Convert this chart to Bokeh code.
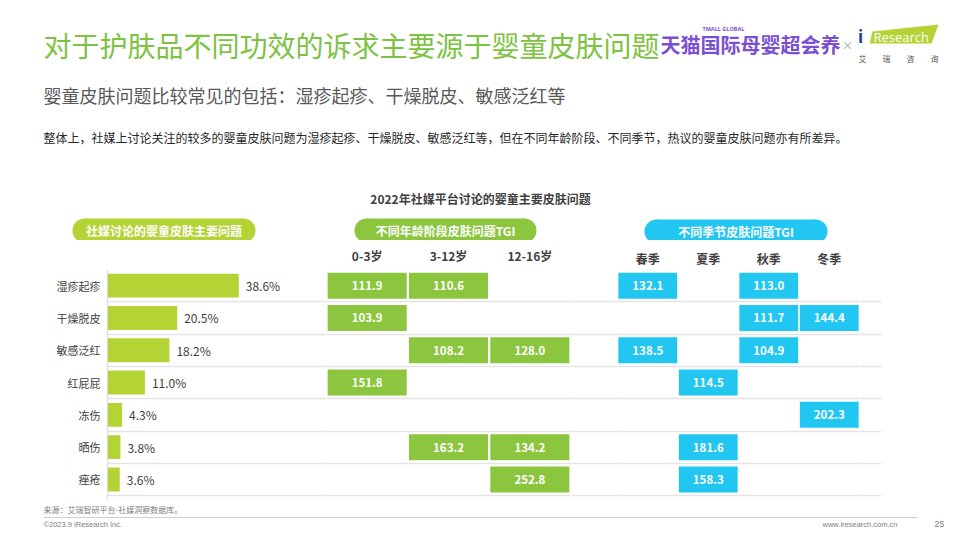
from bokeh.plotting import figure
from bokeh.layouts import column, row
from bokeh.models import Range1d, FactorRange, FixedTicker, ColumnDataSource
from bokeh.embed import file_html
from bokeh.resources import INLINE
from bokeh.core.properties import value

# ---------------- data ----------------
categories = ["湿疹起疹", "干燥脱皮", "敏感泛红", "红屁屁", "冻伤", "晒伤", "痤疮"]
shares = [38.6, 20.5, 18.2, 11.0, 4.3, 3.8, 3.6]

age_groups = ["0-3岁", "3-12岁", "12-16岁"]
tgi_age_0_3 = [111.9, 103.9, None, 151.8, None, None, None]
tgi_age_3_12 = [110.6, None, 108.2, None, None, 163.2, None]
tgi_age_12_16 = [None, None, 128.0, None, None, 134.2, 252.8]

seasons = ["春季", "夏季", "秋季", "冬季"]
tgi_spring = [132.1, None, 138.5, None, None, None, None]
tgi_summer = [None, None, None, 114.5, None, 181.6, 158.3]
tgi_autumn = [113.0, 111.7, 104.9, None, None, None, None]
tgi_winter = [None, 144.4, None, None, 202.3, None, None]

title_text = "对于护肤品不同功效的诉求主要源于婴童皮肤问题"
subtitle_text = "婴童皮肤问题比较常见的包括：湿疹起疹、干燥脱皮、敏感泛红等"
body_text = "整体上，社媒上讨论关注的较多的婴童皮肤问题为湿疹起疹、干燥脱皮、敏感泛红等，但在不同年龄阶段、不同季节，热议的婴童皮肤问题亦有所差异。"
chart_title = "2022年社媒平台讨论的婴童主要皮肤问题"
panel_titles = ["社媒讨论的婴童皮肤主要问题", "不同年龄阶段皮肤问题TGI", "不同季节皮肤问题TGI"]
source_note = "来源：艾瑞智研平台-社媒洞察数据库。"
copyright_text = "©2023.9 iResearch Inc."
url_text = "www.iresearch.com.cn"
page_no = "25"

FONT = "Noto Sans CJK SC"
LIME = "#b4d335"
GREEN = "#8cc63f"
CYAN = "#21c6f1"
GRID = "#e4e4e4"
DARK = "#404040"

rows_idx = list(range(len(categories)))
bounds = [i + 0.5 for i in rows_idx]


def base(w, h, xr, yr, xloc=None, yloc=None, **kw):
    p = figure(width=w, height=h, x_range=xr, y_range=yr,
               output_backend="svg", toolbar_location=None, tools="",
               x_axis_location=xloc, y_axis_location=yloc,
               min_border=0, min_border_left=0, min_border_right=0,
               min_border_top=0, min_border_bottom=0, **kw)
    p.outline_line_color = None
    p.background_fill_color = "white"
    p.border_fill_color = "white"
    p.xgrid.visible = False
    p.ygrid.visible = False
    return p


def row_fig(w, xr, xloc=None, yloc=None, **kw):
    p = base(w, 265, xr, Range1d(6.62, -0.5), xloc=xloc, yloc=yloc, **kw)
    p.min_border_top = 29
    p.min_border_bottom = 6
    p.ygrid.visible = True
    p.ygrid.ticker = FixedTicker(ticks=bounds)
    p.ygrid.grid_line_color = GRID
    p.ygrid.grid_line_width = 1.5
    return p


# ---------------- header ----------------
hdr = base(944, 240, Range1d(0, 944), Range1d(240, 0))
hdr.text(x=[43], y=[44], text=[title_text], text_font=value(FONT), text_font_size="28px",
         text_color="#7dc242", text_baseline="middle", text_align="left")
hdr.text(x=[660], y=[44], text=["天猫国际母婴超会养"], text_font=value(FONT), text_font_size="20px",
         text_font_style="bold", text_color="#7b4fd2", text_baseline="middle", text_align="left")
hdr.text(x=[702], y=[28], text=["TMALL GLOBAL"], text_font=value("Open Sans"), text_font_size="5.5px",
         text_font_style="bold", text_color="#7b4fd2", text_baseline="middle", text_align="left")
hdr.text(x=[847], y=[44], text=["×"], text_font=value(FONT), text_font_size="11px",
         text_color="#999999", text_baseline="middle", text_align="center")
hdr.patch(x=[869, 931, 938, 872], y=[43, 43, 24, 31], fill_color="#b5d334", line_color=None)
hdr.text(x=[860], y=[36], text=["i"], text_font=value("Open Sans"), text_font_size="17px",
         text_font_style="bold", text_color="#233a8f", text_baseline="middle", text_align="center")
hdr.text(x=[873], y=[36], text=["Research"], text_font=value("Open Sans"), text_font_size="13px",
         text_color="white", text_baseline="middle", text_align="left")
hdr.text(x=[858, 882, 906, 930], y=[58] * 4, text=list("艾瑞咨询"), text_font=value(FONT),
         text_font_size="8px", text_color="#555555", text_baseline="middle", text_align="left")
hdr.text(x=[43], y=[94], text=[subtitle_text], text_font=value(FONT), text_font_size="18px",
         text_color="#595959", text_baseline="middle", text_align="left")
hdr.text(x=[43], y=[137], text=[body_text], text_font=value(FONT), text_font_size="12px",
         text_color="#262626", text_baseline="middle", text_align="left")
hdr.text(x=[480], y=[198], text=[chart_title], text_font=value(FONT), text_font_size="12px",
         text_font_style="bold", text_color=DARK, text_baseline="middle", text_align="center")

pill_left = [72, 354, 644]
pill_right = [255, 536, 827]
pill_y = [230, 230, 231]
pill_colors = [LIME, GREEN, CYAN]
for l, r, yy, c, t in zip(pill_left, pill_right, pill_y, pill_colors, panel_titles):
    hdr.rect(x=[(l + r) / 2], y=[yy], width=[r - l - 24], height=[24], fill_color=c, line_color=None)
    hdr.scatter(x=[l + 12, r - 12], y=[yy, yy], size=24, marker="circle", fill_color=c, line_color=None)
    hdr.text(x=[(l + r) / 2], y=[yy], text=[t], text_font=value(FONT), text_font_size="12px",
             text_font_style="bold", text_color="white", text_baseline="middle", text_align="center")

# ---------------- bar panel ----------------
bar = row_fig(326, Range1d(0, 64.4), yloc="left")
bar.min_border_left = 107
bar.yaxis.ticker = FixedTicker(ticks=rows_idx)
bar.yaxis.major_label_overrides = {i: c for i, c in zip(rows_idx, categories)}
bar.yaxis.axis_line_color = "#d9d9d9"
bar.yaxis.major_tick_line_color = None
bar.yaxis.minor_tick_line_color = None
bar.yaxis.major_tick_out = 0
bar.yaxis.major_label_standoff = 7
bar.yaxis.major_label_text_font = FONT
bar.yaxis.major_label_text_font_size = "11px"
bar.yaxis.major_label_text_color = DARK
bsrc = ColumnDataSource(dict(y=rows_idx, v=shares, lab=[f"{v:.1f}%" for v in shares]))
bar.hbar(y="y", left=0, right="v", height=0.74, source=bsrc, fill_color=LIME, line_color=None)
bar.text(x="v", y="y", text="lab", source=bsrc, x_offset=7, text_font=value(FONT),
         text_font_size="12px", text_color=DARK, text_baseline="middle", text_align="left")


def tgi_fig(w, factors, columns, color, standoff):
    p = row_fig(w, FactorRange(factors=factors, range_padding=0), xloc="above")
    ax = p.xaxis
    ax.axis_line_color = None
    ax.major_tick_line_color = None
    ax.minor_tick_line_color = None
    ax.major_tick_out = 0
    ax.major_label_standoff = standoff
    ax.major_label_text_font = FONT
    ax.major_label_text_font_size = "12px"
    ax.major_label_text_font_style = "bold"
    ax.major_label_text_color = DARK
    xs, ys, vs = [], [], []
    for f, col in zip(factors, columns):
        for i, v in zip(rows_idx, col):
            if v is not None:
                xs.append(f)
                ys.append(i)
                vs.append(f"{v:.1f}")
    src = ColumnDataSource(dict(x=xs, y=ys, lab=vs))
    p.rect(x="x", y="y", width=0.972, height=0.805, source=src, fill_color=color, line_color=None)
    p.text(x="x", y="y", text="lab", source=src, text_font=value(FONT), text_font_size="11.5px",
           text_font_style="bold", text_color="white", text_baseline="middle", text_align="center")
    return p


age = tgi_fig(244, age_groups, [tgi_age_0_3, tgi_age_3_12, tgi_age_12_16], GREEN, 6)
gap = row_fig(47, Range1d(0, 1))
season = tgi_fig(242, seasons, [tgi_spring, tgi_summer, tgi_autumn, tgi_winter], CYAN, 3)
right = row_fig(85, Range1d(0, 1))
right.min_border_right = 63

# ---------------- footer ----------------
ftr = base(944, 27, Range1d(0, 944), Range1d(532, 505))
ftr.text(x=[43], y=[509], text=[source_note], text_font=value(FONT), text_font_size="8px",
         text_color="#808080", text_baseline="middle", text_align="left")
ftr.segment(x0=[43], y0=[517], x1=[917], y1=[517], line_color="#cfcfcf", line_width=1)
ftr.text(x=[43], y=[523.5], text=[copyright_text], text_font=value("Liberation Sans"), text_font_size="7.5px",
         text_color="#808080", text_baseline="middle", text_align="left")
ftr.text(x=[897], y=[523.5], text=[url_text], text_font=value("Liberation Sans"), text_font_size="7.5px",
         text_color="#808080", text_baseline="middle", text_align="right")
ftr.text(x=[939], y=[523.5], text=[page_no], text_font=value("Liberation Sans"), text_font_size="9px",
         text_color="#808080", text_baseline="middle", text_align="center")

layout = column(hdr, row(bar, age, gap, season, right), ftr)

open("out.html", "w").write(file_html(layout, INLINE))
